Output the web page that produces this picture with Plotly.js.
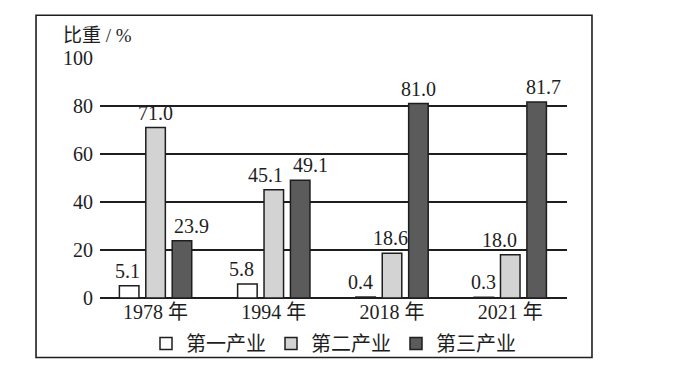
<!DOCTYPE html>
<html><head><meta charset="utf-8">
<script src="https://cdn.plot.ly/plotly-3.0.1.min.js"></script>
<style>html,body{margin:0;padding:0;background:#fff;}#chart{width:692px;height:375px;}</style>
</head><body><div id="chart"></div>
<script>
// ---- data ----
var years = ["1978 年", "1994 年", "2018 年", "2021 年"];
var seriesNames = ["第一产业", "第二产业", "第三产业"];
var primary = [5.1, 5.8, 0.4, 0.3];
var secondary = [71.0, 45.1, 18.6, 18.0];
var tertiary = [23.9, 49.1, 81.0, 81.7];
var yTicks = [0, 20, 40, 60, 80, 100];

var FONT = "Liberation Serif, Noto Sans CJK SC, serif";
var INK = "#1e1e1e";
var fills = ["#ffffff", "#d3d3d3", "#5b5b5b"];
var series = [primary, secondary, tertiary];

var traces = series.map(function (vals, i) {
  return {
    type: "bar", x: years, y: vals, name: seriesNames[i],
    marker: {color: fills[i], line: {color: INK, width: 1.5}},
    hoverinfo: "skip"
  };
});

// label placement (style offsets, not data)
var slot = 26.4;
var nudges = [[-2, -6, -5, 0], [0, -8, -2, -11], [10, 10, 0, 7]];
var anns = [];
series.forEach(function (vals, i) {
  vals.forEach(function (v, j) {
    anns.push({
      x: years[j], y: v, xref: "x", yref: "y", text: v.toFixed(1),
      showarrow: false, yanchor: "bottom", xanchor: "center",
      xshift: (i - 1) * slot + nudges[i][j], yshift: 2,
      font: {family: FONT, size: 20, color: INK}
    });
  });
});
anns.push({
  xref: "paper", yref: "paper", x: -0.083, y: 1.095, xanchor: "left", yanchor: "middle",
  text: "比重 / %", showarrow: false, font: {family: FONT, size: 19, color: INK}
});

var layout = {
  width: 692, height: 375,
  margin: {l: 100, r: 125, t: 58, b: 75},
  paper_bgcolor: "#fff", plot_bgcolor: "#fff",
  barmode: "group", bargap: 0.33, bargroupgap: 0.26,
  showlegend: true,
  legend: {
    orientation: "h", x: 0.50, xanchor: "center", y: -0.19, yanchor: "middle",
    bgcolor: "rgba(0,0,0,0)",
    font: {family: FONT, size: 20, color: INK}, itemwidth: 30, traceorder: "normal"
  },
  xaxis: {
    type: "category", range: [-0.47, 3.48], showgrid: false, zeroline: false,
    showline: false, ticks: "", ticklen: 0,
    tickfont: {family: FONT, size: 20, color: INK}
  },
  yaxis: {
    range: [0, 100], tickvals: yTicks, ticktext: yTicks.map(String),
    showgrid: true, gridcolor: INK, gridwidth: 1.4, zeroline: true, zerolinecolor: INK,
    zerolinewidth: 1.6, showline: false, ticks: "", ticklabelstandoff: 6,
    tickfont: {family: FONT, size: 20, color: INK}, fixedrange: true
  },
  annotations: anns,
  shapes: [{
    type: "rect", xref: "paper", yref: "paper",
    x0: -0.137, x1: 1.0535, y0: -0.248, y1: 1.178,
    line: {color: INK, width: 1.6}, fillcolor: "rgba(0,0,0,0)", layer: "above"
  }]
};

Plotly.newPlot("chart", traces, layout, {staticPlot: true, displayModeBar: false});
</script></body></html>
